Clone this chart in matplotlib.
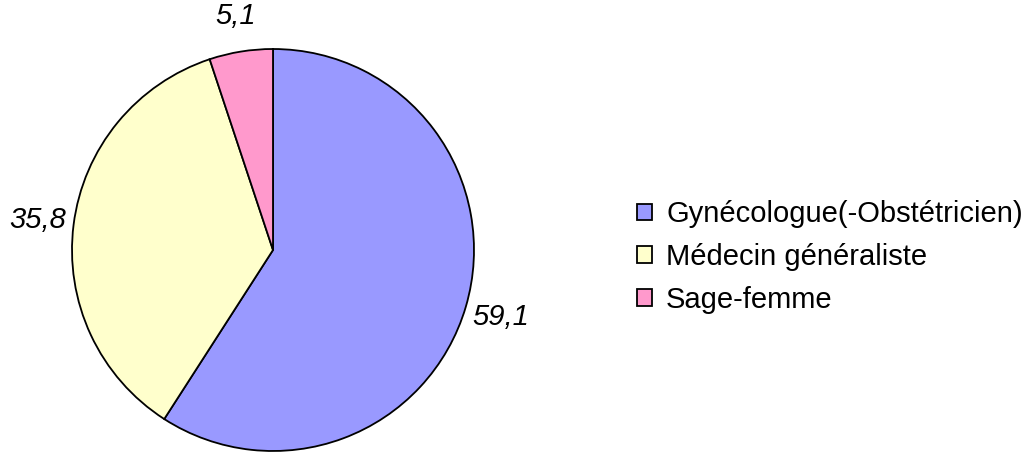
import matplotlib.pyplot as plt

plt.rcParams['font.family'] = ['Liberation Sans', 'DejaVu Sans']

categories = ['Gynécologue(-Obstétricien)', 'Médecin généraliste', 'Sage-femme']
values = [59.1, 35.8, 5.1]
value_labels = ['59,1', '35,8', '5,1']
colors = ['#9999FF', '#FFFFCC', '#FF99CC']

fig = plt.figure(figsize=(10.27, 4.53), dpi=100)
# pie axes placed so the circle is centred at (273, 250) px with r = 202 px
ax = fig.add_axes([71 / 1027, 1 / 453, 404 / 1027, 404 / 453])

wedges, texts = ax.pie(values, labels=value_labels, colors=colors,
                       startangle=90, counterclock=False,
                       labeldistance=1.18, radius=1,
                       wedgeprops=dict(edgecolor='black', linewidth=1.3),
                       textprops=dict(fontsize=21, style='italic'))
for t in texts:
    t.set_ha('center')
    t.set_va('center')
ax.set_xlim(-1.005, 1.005)
ax.set_ylim(-1.005, 1.005)
ax.set_aspect('equal')
ax.axis('off')

fig.legend(wedges, categories, loc='center left',
           bbox_to_anchor=(637 / 1027, 1 - 257 / 453),
           frameon=False, fontsize=21,
           handlelength=0.5, handleheight=0.5, handletextpad=0.5,
           labelspacing=0.5, borderpad=0, borderaxespad=0)

fig.savefig('out.png', dpi=100)
